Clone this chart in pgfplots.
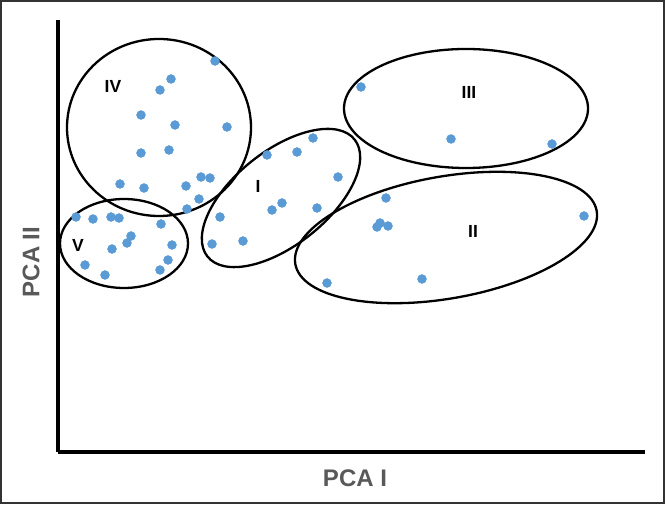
\documentclass[border=0pt]{standalone}
\usepackage{pgfplots}
\pgfplotsset{compat=1.18}
\usepackage{pgfplotstable}
\usepackage{fontspec}
\setmainfont{Liberation Sans}
\definecolor{dot}{HTML}{5B9BD5}
\definecolor{lab}{HTML}{595959}
\definecolor{frame}{HTML}{333333}
% pixel coordinates of the points (x to the right, y downwards)
\pgfplotstableread{
px py
215 61
171 79
160 90
141 115
175 125
227 127
141 153
169 150
120 184
144 188
186 186
201 177
210 178
199 199
187 209
76 217
93 219
111 217
119 218
161 224
131 236
127 243
112 249
172 245
168 260
160 270
85 265
105 275
313 138
267 155
297 152
338 177
282 203
272 210
317 208
220 217
212 244
243 241
386 198
380 223
377 227
388 226
584 216
422 279
327 283
361 87
451 139
552 144
}\pts
\begin{document}
\begin{tikzpicture}
\begin{axis}[
  x=1bp, y=1bp,
  xmin=58, xmax=645, ymin=53, ymax=485,
  axis lines=left,
  axis line style={-, line width=3.2bp, black},
  xtick=\empty, ytick=\empty,
  clip=false,
]
\path (axis cs:0,0) rectangle (axis cs:665,505);
\draw[frame, line width=2bp] (axis cs:1.5,1.5) rectangle (axis cs:663.5,503.5);
\addplot[only marks, mark=*, mark size=4.5bp, mark options={fill=dot, draw=dot}]
  table[x=px, y expr=505-\thisrow{py}] {\pts};
\draw[line width=2.3bp] (axis cs:159,377.5) ellipse [x radius=92bp, y radius=88.5bp];
\draw[line width=2.3bp] (axis cs:124,261.5) ellipse [x radius=64bp, y radius=44.5bp];
\draw[line width=2.3bp, rotate around={38.5:(axis cs:281,307)}] (axis cs:281,307) ellipse [x radius=94bp, y radius=47bp];
\draw[line width=2.3bp, rotate around={10:(axis cs:446,267.5)}] (axis cs:446,267.5) ellipse [x radius=153bp, y radius=61bp];
\draw[line width=2.3bp] (axis cs:466,396.5) ellipse [x radius=122bp, y radius=59.5bp];
\begin{scope}[font=\fontsize{17.5bp}{20bp}\selectfont\bfseries]
\node at (axis cs:113,419) {IV};
\node at (axis cs:78,260) {V};
\node at (axis cs:258,319) {I};
\node at (axis cs:473,274) {II};
\node at (axis cs:469,413) {III};
\end{scope}
\node[lab, font=\fontsize{24bp}{28bp}\selectfont\bfseries] at (axis cs:355,27) {PCA I};
\node[lab, rotate=90, font=\fontsize{24bp}{28bp}\selectfont\bfseries] at (axis cs:31,243) {PCA II};
\end{axis}
\end{tikzpicture}
\end{document}
